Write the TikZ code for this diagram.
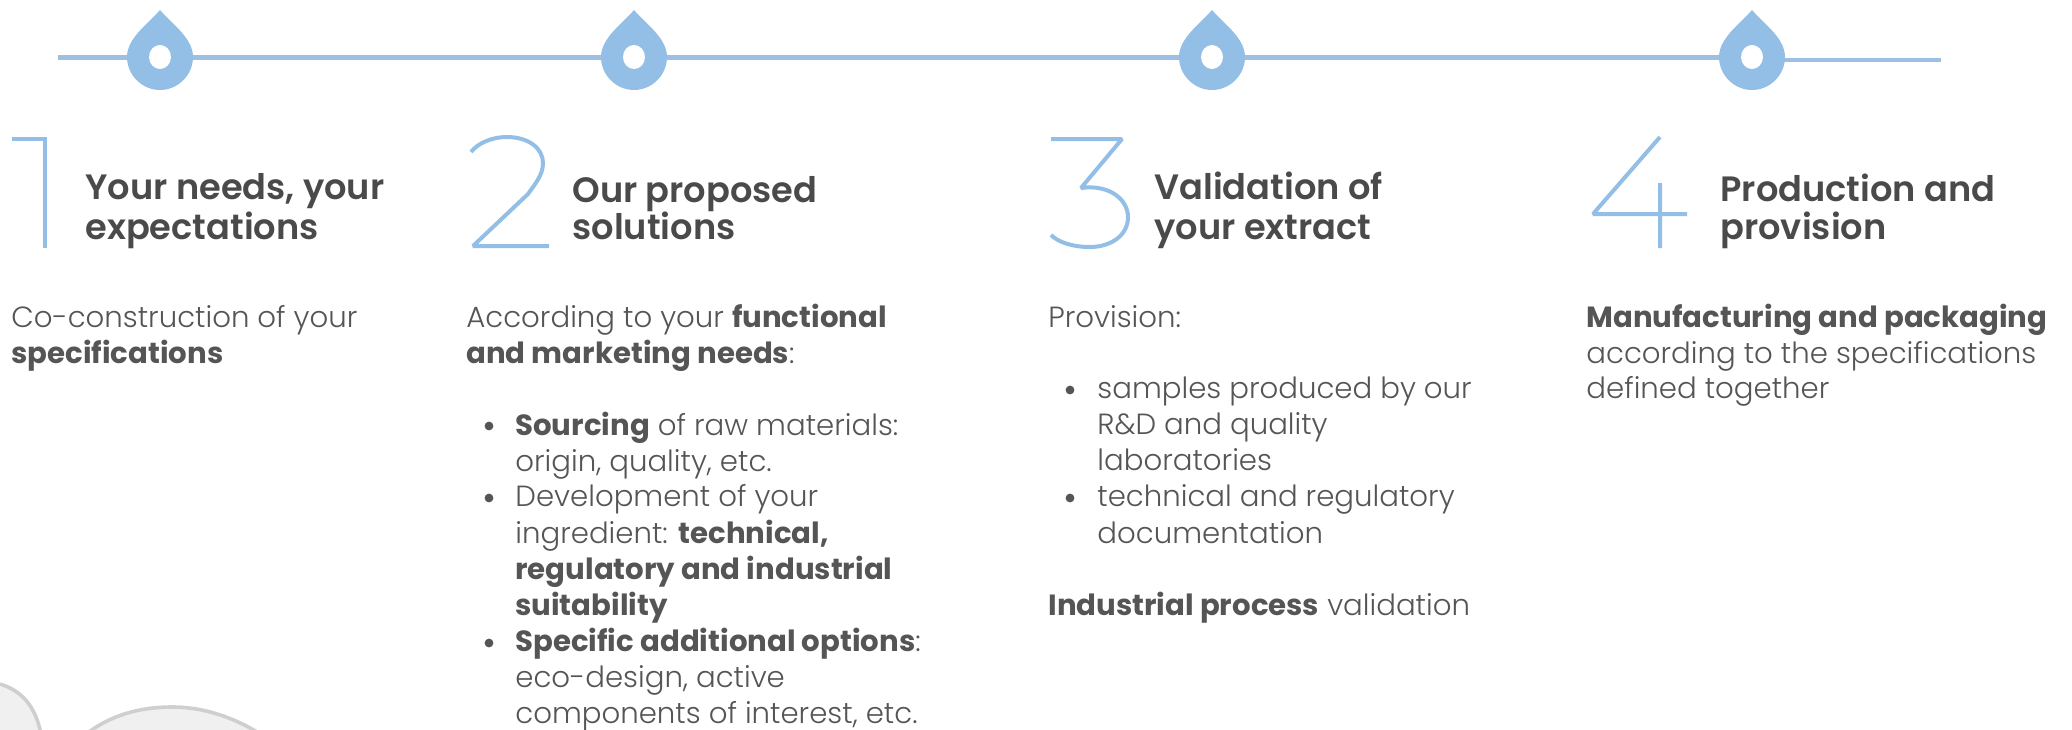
\documentclass[tikz,border=0pt]{standalone}
\usepackage{fontspec}
\usetikzlibrary{shapes.geometric}
\setmainfont{Poppins}
\newfontfamily\lightf{Poppins Light}[BoldFont={Poppins Bold},BoldFeatures={Scale=1.0}]
\newfontfamily\titlef{Poppins SemiBold}
\definecolor{dropblue}{HTML}{93BFE6}
\definecolor{linecol}{HTML}{9DC0E2}
\definecolor{titlecol}{HTML}{4A4A4A}
\definecolor{bodycol}{HTML}{555555}
\tikzset{
 x=0.5pt,y=-0.5pt,
 title/.style={anchor=base west,inner sep=0pt,text=titlecol,font=\titlef\fontsize{17.6}{20}\selectfont},
 body/.style={anchor=base west,inner sep=0pt,text=bodycol,font=\lightf\fontsize{14.6}{18}\selectfont},
 numeral/.style={draw=dropblue,line width=2pt,line cap=butt,line join=bevel},
 rail/.style={draw=linecol,line width=2.4pt},
 bulletdot/.style={circle,fill=bodycol,inner sep=0pt,minimum size=4.4pt},
 blobfill/.style={fill=gray!12},
 blobrim/.style={draw=gray!38,line width=1.8pt},
}
\newcommand{\drop}[2]{%
 \fill[dropblue] (#1,10) .. controls (#1+12,24) and (#1+33,38) .. (#1+33,57)
   .. controls (#1+33,75) and (#1+18,90) .. (#1,90)
   .. controls (#1-18,90) and (#1-33,75) .. (#1-33,57)
   .. controls (#1-33,38) and (#1-12,24) .. (#1,10) -- cycle;
 \node[ellipse,fill=white,inner sep=0pt,minimum width=11pt,minimum height=12pt] (#2) at (#1,57) {};}
\begin{document}
\begin{tikzpicture}
\useasboundingbox (0,0) rectangle (2072,729);
\coordinate (r0) at (58,57.5);
\coordinate (r1) at (160,57.5);
\coordinate (r2) at (634,57.5);
\coordinate (r3) at (1212,57.5);
\coordinate (r4) at (1752,57.5);
\coordinate (r4b) at (1752,60);
\coordinate (r5) at (1941,60);
\draw[rail] (r0) -- (r1) -- (r2) -- (r3) -- (r4);
\draw[rail] (r4b) -- (r5);
\drop{160}{h1}\drop{634}{h2}\drop{1212}{h3}\drop{1752}{h4}
% numerals
\draw[numeral,line width=2.4pt,line join=miter] (12,139) -- (45,139) -- (45,248);
\draw[numeral] (471,152) .. controls (478,143) and (492,137) .. (507,137) .. controls (528,137) and (543,148) .. (543,163) .. controls (543,175) and (535,184) .. (528,194) -- (473,246) -- (549,246);
\draw[numeral] (1051,139) -- (1122,139) -- (1081,188) .. controls (1110,184) and (1128,200) .. (1128,217) .. controls (1128,236) and (1110,247) .. (1090,247) .. controls (1072,247) and (1058,242) .. (1051,235);
\draw[numeral] (1660,137) -- (1593,214) -- (1687,214) (1660,183) -- (1660,248);
% titles
\node[title] (t1a) at (85,199) {Your needs, your};
\node[title] (t1b) at (85,239) {expectations};
\node[title] (t2a) at (572,202) {Our proposed};
\node[title] (t2b) at (572,239) {solutions};
\node[title] (t3a) at (1154,199) {Validation of};
\node[title] (t3b) at (1154,239) {your extract};
\node[title] (t4a) at (1720,201) {Production and};
\node[title] (t4b) at (1720,239) {provision};
% col 1
\node[body] (b1a) at (11,327) {Co-construction of your};
\node[body] (b1b) at (11,363) {\textbf{specifications}};
% col 2
\node[body] (b2a) at (466,327) {According to your \textbf{functional}};
\node[body] (b2b) at (466,363) {\textbf{and marketing needs}:};
\node[body] (b2c) at (515,435) {\textbf{Sourcing} of raw materials:};
\node[body] (b2d) at (515,471) {origin, quality, etc.};
\node[body] (b2e) at (515,506) {Development of your};
\node[body] (b2f) at (515,543) {ingredient: \textbf{technical,}};
\node[body] (b2g) at (515,579) {\textbf{regulatory and industrial}};
\node[body] (b2h) at (515,615) {\textbf{suitability}};
\node[body] (b2i) at (515,651) {\textbf{Specific additional options}:};
\node[body] (b2j) at (515,687) {eco-design, active};
\node[body] (b2k) at (515,723) {components of interest, etc.};
\node[bulletdot] (bu2a) at (489,426) {};
\node[bulletdot] (bu2b) at (489,498) {};
\node[bulletdot] (bu2c) at (489,643) {};
% col 3
\node[body] (b3a) at (1048,327) {Provision:};
\node[body] (b3b) at (1097,398) {samples produced by our};
\node[body] (b3c) at (1097,434) {R\&D and quality};
\node[body] (b3d) at (1097,470) {laboratories};
\node[body] (b3e) at (1097,506) {technical and regulatory};
\node[body] (b3f) at (1097,543) {documentation};
\node[body] (b3g) at (1048,615) {\textbf{Industrial process} validation};
\node[bulletdot] (bu3a) at (1070,390) {};
\node[bulletdot] (bu3b) at (1070,498) {};
% col 4
\node[body] (b4a) at (1586,327) {\textbf{Manufacturing and packaging}};
\node[body] (b4b) at (1586,363) {according to the specifications};
\node[body] (b4c) at (1586,398) {defined together};
% blobs
\begin{scope}
\clip (0,0) rectangle (2072,729);
\fill[blobfill] (0,684) .. controls (20,690) and (36,705) .. (41,735) -- (0,735) -- cycle;
\draw[blobrim] (0,684) .. controls (20,690) and (36,705) .. (41,735);
\fill[blobfill] (85,735) .. controls (110,715) and (140,707) .. (172,707) .. controls (205,707) and (235,718) .. (262,735) -- cycle;
\draw[blobrim] (85,735) .. controls (110,715) and (140,707) .. (172,707) .. controls (205,707) and (235,718) .. (262,735);
\end{scope}
\end{tikzpicture}
\end{document}
